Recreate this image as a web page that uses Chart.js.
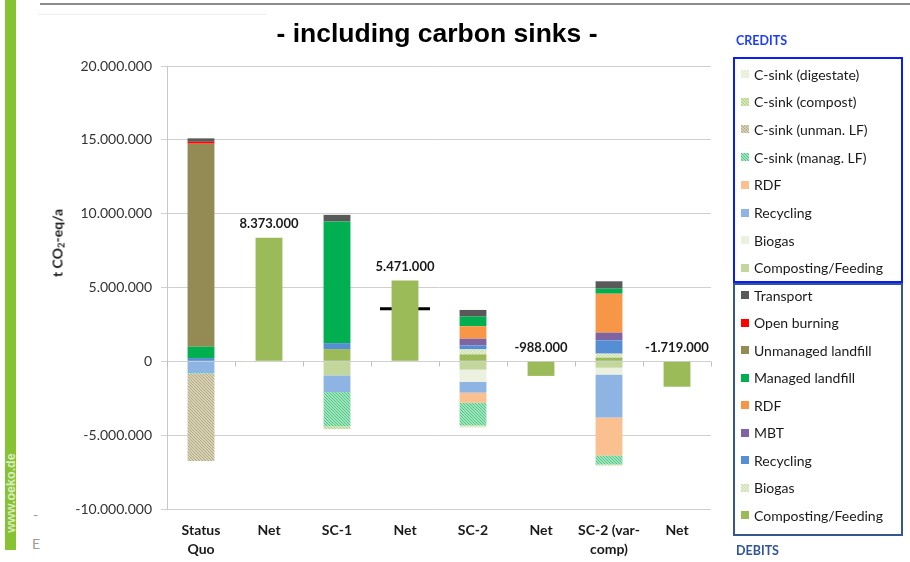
<!DOCTYPE html>
<html><head><meta charset="utf-8">
<script src="https://cdn.jsdelivr.net/npm/chart.js@4.4.1/dist/chart.umd.min.js"></script>
<style>
html,body{margin:0;padding:0;background:#fff;width:910px;height:562px;overflow:hidden;font-family:Lato,'Liberation Sans',sans-serif;}
#wrap{position:relative;width:910px;height:562px;}
#c{position:absolute;left:0;top:0;}
.abs{position:absolute;}
#strip{left:5px;top:0;width:11px;height:550px;background:#86c232;}
#url{left:10.5px;top:493px;transform:translate(-50%,-50%) rotate(-90deg);color:rgba(255,255,255,0.7);font:bold 12.5px 'Liberation Sans',sans-serif;white-space:nowrap;}
#topline{left:40px;top:3px;width:870px;height:2px;background:#8c8c8c;}
#topline2{left:38px;top:14px;width:229px;height:1px;background:#eeeeee;}
#title{left:437px;top:33px;transform:translate(-50%,-50%);font:bold 26.5px 'Liberation Sans',Arial,sans-serif;color:#000;white-space:nowrap;}
#ytitle{left:57px;top:243px;transform:translate(-50%,-50%) rotate(-90deg);font:bold 14px Lato,sans-serif;color:#1a1a1a;white-space:nowrap;}
#ytitle sub{font-size:9.5px;vertical-align:-2px;line-height:0;}
.frag{color:#9a9a9a;font:14px Lato,sans-serif;}
.box{box-sizing:border-box;left:733px;width:170px;}
#credBox{top:57px;height:226px;border:2px solid #0a1cff;}
#debBox{top:283px;height:253px;border:2px solid #34578f;}
.hdr{font:bold 12.5px Lato,sans-serif;left:736px;transform:translateY(-50%);}
.item{left:741px;height:16px;transform:translateY(-50%);display:flex;align-items:center;font:14px Lato,sans-serif;color:#1a1a1a;white-space:nowrap;}
.item canvas{width:8px;height:8px;margin-right:5px;}
</style></head><body>
<div id="wrap">
<div class="abs" id="strip"></div>
<div class="abs" id="url">www.oeko.de</div>
<div class="abs" id="topline"></div>
<div class="abs" id="topline2"></div>
<div class="abs frag" style="left:33px;top:506px;">-</div>
<div class="abs frag" style="left:32px;top:535px;">E</div>
<canvas id="c" width="910" height="562"></canvas>
<div class="abs" id="title">- including carbon sinks -</div>
<div class="abs" id="ytitle">t CO<sub>2</sub>-eq/a</div>
<div class="abs hdr" style="top:40px;color:#1c3cff;">CREDITS</div>
<div class="abs hdr" style="top:550px;color:#2f5597;">DEBITS</div>
<div class="abs box" id="credBox"></div>
<div class="abs box" id="debBox"></div>
<div id="legend"></div>
</div>
<script>
// ---- data (t CO2-eq/a) ----
const categories = [['Status','Quo'], 'Net', 'SC-1', 'Net', 'SC-2', 'Net', ['SC-2 (var-','comp)'], 'Net'];
const yTicks = [-10000000, -5000000, 0, 5000000, 10000000, 15000000, 20000000];

// debits (positive)
const debComposting = [null, null, 830000, null, 470000, null, 250000, null];
const debBiogas     = [null, null, null, null, 340000, null, 270000, null];
const debRecycling  = [220000, null, 400000, null, 270000, null, 900000, null];
const debMBT        = [null, null, null, null, 450000, null, 520000, null];
const debRDF        = [null, null, null, null, 850000, null, 2640000, null];
const debManagedLF  = [770000, null, 8240000, null, 650000, null, 340000, null];
const debUnmanLF    = [13750000, null, null, null, null, null, null, null];
const debOpenBurn   = [130000, null, null, null, null, null, null, null];
const debTransport  = [230000, null, 450000, null, 450000, null, 500000, null];

// credits (negative)
const crComposting  = [null, null, -950000, null, -560000, null, -430000, null];
const crBiogas      = [null, null, null, null, -840000, null, -470000, null];
const crRecycling   = [-800000, null, -1130000, null, -720000, null, -2900000, null];
const crRDF         = [null, null, null, null, -680000, null, -2570000, null];
const csManagLF     = [-50000, null, -2320000, null, -1530000, null, -610000, null];
const csUnmanLF     = [-5900000, null, null, null, null, null, null, null];
const csCompost     = [null, null, -180000, null, -80000, null, -60000, null];
const csDigestate   = [null, null, null, null, -80000, null, -50000, null];

// net results
const netValues     = [null, 8373000, null, 5471000, null, -988000, null, -1719000];
// reference marker
const markerValues  = [null, null, null, 3560000, null, null, null, null];

// ---- styles ----
function hatch(bg, fg){
  const c = document.createElement('canvas'); c.width = 3; c.height = 3;
  const x = c.getContext('2d'); x.fillStyle = bg; x.fillRect(0,0,3,3);
  x.fillStyle = fg; for (let i=0;i<3;i++) x.fillRect(i,i,1,1);
  return x.createPattern(c,'repeat');
}
const C = {
  transport:'#595959', open:'#ff0000', unman:'#948a54', manag:'#00b050', rdf:'#f79646', mbt:'#8064a2',
  recyc:'#558ed5', biogas:hatch('#e6efd6','#c4da9e'), compost:'#9bbb59',
  crCompost:'#c3d69b', crBiogas:'#ebf1de', crRecyc:'#8eb4e3', crRDF:'#fac090',
  csManag:hatch('#a2e2bd','#4cc985'), csUnman:hatch('#d6d0b4','#b3aa84'),
  csCompost:hatch('#d3e6b3','#b3d486'), csDig:hatch('#f1f5e8','#dde8c9')
};

function ds(label, data, color){ return {label, data, backgroundColor: color, stack:'s', borderWidth:0}; }
const datasets = [
  ds('Composting/Feeding', debComposting, C.compost),
  ds('Biogas', debBiogas, C.biogas),
  ds('Recycling', debRecycling, C.recyc),
  ds('MBT', debMBT, C.mbt),
  ds('RDF', debRDF, C.rdf),
  ds('Managed landfill', debManagedLF, C.manag),
  ds('Unmanaged landfill', debUnmanLF, C.unman),
  ds('Open burning', debOpenBurn, C.open),
  ds('Transport', debTransport, C.transport),
  ds('Composting/Feeding ', crComposting, C.crCompost),
  ds('Biogas ', crBiogas, C.crBiogas),
  ds('Recycling ', crRecycling, C.crRecyc),
  ds('RDF ', crRDF, C.crRDF),
  ds('C-sink (manag. LF)', csManagLF, C.csManag),
  ds('C-sink (unman. LF)', csUnmanLF, C.csUnman),
  ds('C-sink (compost)', csCompost, C.csCompost),
  ds('C-sink (digestate)', csDigestate, C.csDig),
  ds('Net', netValues, '#9bbb59'),
  {type:'line', label:'marker', data: markerValues, stack:'m', showLine:false,
   pointStyle:'line', pointRadius:25, pointHoverRadius:25, borderColor:'#000', borderWidth:3, backgroundColor:'#000'}
];

function fmt(v){
  const s = String(Math.abs(Math.round(v))).replace(/\B(?=(\d{3})+(?!\d))/g,'.');
  return (v < 0 ? '-' : '') + s;
}

const netLabels = {
  id:'netLabels',
  afterDatasetsDraw(chart){
    const ctx = chart.ctx, y = chart.scales.y;
    const idx = chart.data.datasets.findIndex(d => d.label === 'Net');
    const meta = chart.getDatasetMeta(idx);
    ctx.save();
    ctx.font = 'bold 13px Lato, sans-serif'; ctx.fillStyle = '#1a1a1a';
    ctx.textAlign = 'center'; ctx.textBaseline = 'middle';
    netValues.forEach((v,i) => {
      if (v === null) return;
      const bar = meta.data[i];
      ctx.fillText(fmt(v), bar.x, y.getPixelForValue(Math.max(0,v)) - 14);
    });
    ctx.restore();
  }
};

// category boundary tick marks on the zero line
const zeroTicks = {
  id:'zeroTicks',
  afterDatasetsDraw(chart){
    const ctx = chart.ctx, xs = chart.scales.x, y0 = Math.round(chart.scales.y.getPixelForValue(0)) + 0.5;
    ctx.save(); ctx.strokeStyle = '#bfbfbf'; ctx.lineWidth = 1;
    for (let i = 0; i <= categories.length; i++) {
      const x = Math.round(xs.getPixelForValue(i - 0.5)) + 0.5;
      ctx.beginPath(); ctx.moveTo(x, y0); ctx.lineTo(x, y0 + 5); ctx.stroke();
    }
    ctx.restore();
  }
};

const chart = new Chart(document.getElementById('c'), {
  type:'bar',
  data:{ labels: categories, datasets },
  options:{
    responsive:false, animation:false, devicePixelRatio:1,
    layout:{ padding:{ left:50, top:66, right:199, bottom:0 } },
    datasets:{ bar:{ barPercentage:0.395, categoryPercentage:1.0 } },
    plugins:{ legend:{display:false}, tooltip:{enabled:false}, title:{display:false} },
    scales:{
      x:{ stacked:true, offset:true,
          grid:{display:false}, border:{display:false},
          ticks:{ font:{family:'Lato', size:14, weight:'bold', lineHeight:1.35}, color:'#1a1a1a', padding:4, maxRotation:0, autoSkip:false },
          afterFit(s){ s.height = 53; } },
      y:{ stacked:true, min:-10000000, max:20000000,
          afterBuildTicks(s){ s.ticks = yTicks.map(v => ({value:v})); },
          grid:{ color:'#d0d0d0', tickLength:6, drawTicks:true },
          border:{ display:true, color:'#c8c8c8' },
          ticks:{ font:{family:'Lato', size:14}, color:'#333333', padding:9, callback:(v)=>fmt(v) },
          afterFit(s){ s.width = 117; } }
    }
  },
  plugins:[netLabels, zeroTicks]
});

// ---- legend (HTML) ----
const creditOrder = ['C-sink (digestate)','C-sink (compost)','C-sink (unman. LF)','C-sink (manag. LF)','RDF ','Recycling ','Biogas ','Composting/Feeding '];
const debitOrder = ['Transport','Open burning','Unmanaged landfill','Managed landfill','RDF','MBT','Recycling','Biogas','Composting/Feeding'];
const leg = document.getElementById('legend');
function addItems(order, startY, step){
  order.forEach((lab,i) => {
    const d = datasets.find(x => x.label === lab);
    const it = document.createElement('div'); it.className = 'abs item';
    it.style.top = (startY + i*step) + 'px';
    const sw = document.createElement('canvas'); sw.width = 8; sw.height = 8;
    const sx = sw.getContext('2d'); sx.fillStyle = d.backgroundColor; sx.fillRect(0,0,8,8);
    it.appendChild(sw);
    const t = document.createElement('span'); t.textContent = lab.trim(); it.appendChild(t);
    leg.appendChild(it);
  });
}
addItems(creditOrder, 74, 27.7);
addItems(debitOrder, 295, 27.5);
</script>
</body></html>
